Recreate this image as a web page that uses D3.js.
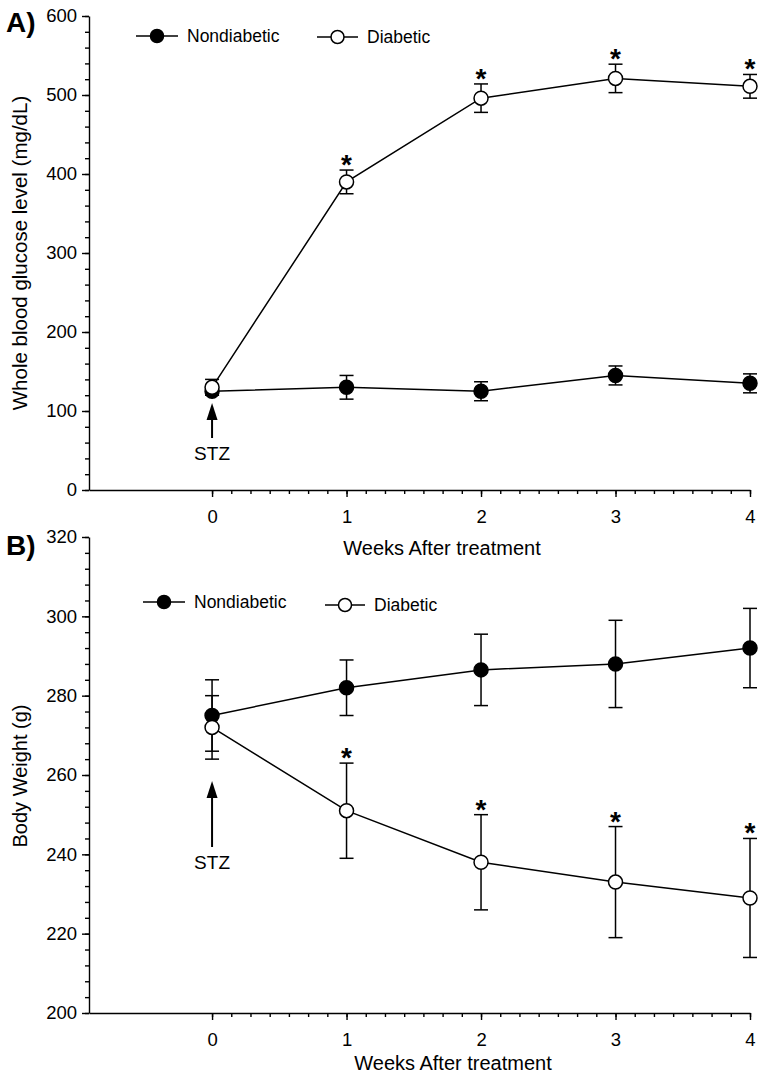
<!DOCTYPE html>
<html>
<head>
<meta charset="utf-8">
<script src="https://cdn.jsdelivr.net/npm/d3@7"></script>
<style>
  html, body { margin: 0; padding: 0; background: #fff; }
  svg { display: block; font-family: Arial, "Liberation Sans", sans-serif; }
</style>
</head>
<body>
<svg id="chart" width="768" height="1076"></svg>
<script>
// ---------- data ----------
const weeks = [0, 1, 2, 3, 4];
const weekTicks = [0, 1, 2, 3, 4];

const glucoseNondiabetic = [125, 130, 125, 145, 135];
const glucoseNondiabeticErr = [5, 15, 12, 12, 12];
const glucoseDiabetic = [130, 390, 496, 521, 511];
const glucoseDiabeticErr = [10, 15, 18, 18, 15];
const glucoseStars = [false, true, true, true, true];
const glucoseTicks = [0, 100, 200, 300, 400, 500, 600];

const weightNondiabetic = [275, 282, 286.5, 288, 292];
const weightNondiabeticErr = [9, 7, 9, 11, 10];
const weightDiabetic = [272, 251, 238, 233, 229];
const weightDiabeticErr = [8, 12, 12, 14, 15];
const weightStars = [false, true, true, true, true];
const weightTicks = [200, 220, 240, 260, 280, 300, 320];

const seriesNames = ["Nondiabetic", "Diabetic"];

// ---------- drawing ----------
const svg = d3.select("#chart");
const xDomain = [-0.915, 4];
const xRange = [89, 750];
const FONT = "Arial, 'Liberation Sans', sans-serif";

function drawPanel(opts) {
  const g = svg.append("g");
  const x = d3.scaleLinear().domain(xDomain).range(xRange);
  const y = d3.scaleLinear().domain(opts.yDomain).range(opts.yRange);
  const yBase = opts.yRange[0];

  // y axis minor
  g.append("g")
    .attr("transform", `translate(${xRange[0]},0)`)
    .call(d3.axisLeft(y).tickValues(d3.range(opts.yDomain[0], opts.yDomain[1] + 0.001, opts.minorY)).tickSize(4).tickFormat(""))
    .call(s => s.select(".domain").remove());
  // y axis major
  g.append("g")
    .attr("transform", `translate(${xRange[0]},0)`)
    .call(d3.axisLeft(y).tickValues(opts.yTicks).tickSize(7).tickSizeOuter(0).tickPadding(5))
    .call(s => s.selectAll("text").attr("font-size", 18.5).attr("fill", "#000").attr("font-family", FONT));

  // x axis minor (days)
  g.append("g")
    .attr("transform", `translate(0,${yBase})`)
    .call(d3.axisBottom(x).tickValues(d3.range(0, 28.001, 1).map(d => d / 7)).tickSize(4).tickFormat(""))
    .call(s => s.select(".domain").remove());
  // x axis major
  g.append("g")
    .attr("transform", `translate(0,${yBase})`)
    .call(d3.axisBottom(x).tickValues(weekTicks).tickSize(7).tickSizeOuter(0).tickPadding(13).tickFormat(d3.format("d")))
    .call(s => s.selectAll("text").attr("font-size", 18.5).attr("fill", "#000").attr("font-family", FONT));

  g.selectAll(".domain, .tick line").attr("stroke", "#000").attr("stroke-width", 1.4);

  // axis titles
  g.append("text")
    .attr("x", opts.xTitleX).attr("y", opts.xTitleY)
    .attr("text-anchor", "middle").attr("font-size", 20).text("Weeks After treatment");
  g.append("text")
    .attr("transform", `translate(${27},${opts.yTitleY}) rotate(-90)`)
    .attr("text-anchor", "middle").attr("font-size", opts.yTitleSize).text(opts.yTitle);

  // panel label
  g.append("text")
    .attr("x", 6).attr("y", opts.panelLabelY)
    .attr("font-size", 28).attr("font-weight", "bold").text(opts.panelLabel);

  // STZ arrow
  const ax = x(0);
  g.append("line").attr("x1", ax).attr("x2", ax).attr("y1", opts.arrow[1]).attr("y2", opts.arrow[0] + 10)
    .attr("stroke", "#000").attr("stroke-width", 2);
  g.append("path")
    .attr("d", `M${ax},${opts.arrow[0]} L${ax - 5.5},${opts.arrow[0] + 17} L${ax + 5.5},${opts.arrow[0] + 17} Z`)
    .attr("fill", "#000");
  g.append("text").attr("x", ax).attr("y", opts.arrow[1] + 22)
    .attr("text-anchor", "middle").attr("font-size", 19).text("STZ");

  const line = d3.line().x((d, i) => x(weeks[i])).y(d => y(d));

  const series = [
    { vals: opts.nd, err: opts.ndErr, fill: "#000" },
    { vals: opts.d, err: opts.dErr, fill: "#fff" }
  ];

  // error bars
  series.forEach(s => {
    const eg = g.append("g");
    weeks.forEach((w, i) => {
      const cx = x(w), top = y(s.vals[i] + s.err[i]), bot = y(s.vals[i] - s.err[i]);
      eg.append("line").attr("x1", cx).attr("x2", cx).attr("y1", top).attr("y2", bot).attr("stroke", "#000").attr("stroke-width", 1.5);
      [top, bot].forEach(yy => eg.append("line").attr("x1", cx - 7).attr("x2", cx + 7).attr("y1", yy).attr("y2", yy).attr("stroke", "#000").attr("stroke-width", 1.5));
    });
  });
  // lines
  series.forEach(s => {
    g.append("path").datum(s.vals).attr("d", line).attr("fill", "none").attr("stroke", "#000").attr("stroke-width", 1.5);
  });
  // markers
  series.forEach(s => {
    g.selectAll(null).data(s.vals).enter().append("circle")
      .attr("cx", (d, i) => x(weeks[i])).attr("cy", d => y(d)).attr("r", 7)
      .attr("fill", s.fill).attr("stroke", "#000").attr("stroke-width", 1.5);
  });
  // stars
  const starIdx = weeks.map((w, i) => i).filter(i => opts.stars[i]);
  g.selectAll(null).data(starIdx).enter().append("text")
    .attr("x", i => x(weeks[i]))
    .attr("y", i => y(opts.d[i] + opts.dErr[i]) + 4)
    .attr("text-anchor", "middle").attr("font-size", 28).attr("font-weight", "bold").text("*");

  // legend
  opts.legend.forEach((L, i) => {
    const lg = g.append("g");
    lg.append("line").attr("x1", L.x0).attr("x2", L.x1).attr("y1", L.y).attr("y2", L.y).attr("stroke", "#000").attr("stroke-width", 1.5);
    lg.append("circle").attr("cx", (L.x0 + L.x1) / 2).attr("cy", L.y).attr("r", 6.5)
      .attr("fill", series[i].fill).attr("stroke", "#000").attr("stroke-width", 1.5);
    lg.append("text").attr("x", L.x1 + 9).attr("y", L.y + 6).attr("font-size", 17.5).text(seriesNames[i]);
  });
}

drawPanel({
  yDomain: [0, 600], yRange: [490, 16], yTicks: glucoseTicks, minorY: 20,
  nd: glucoseNondiabetic, ndErr: glucoseNondiabeticErr,
  d: glucoseDiabetic, dErr: glucoseDiabeticErr, stars: glucoseStars,
  xTitleX: 442, xTitleY: 555, yTitleY: 253, yTitleSize: 20.5,
  yTitle: "Whole blood glucose level (mg/dL)",
  panelLabel: "A)", panelLabelY: 32,
  arrow: [403, 438],
  legend: [{ x0: 136, x1: 178, y: 36 }, { x0: 317, x1: 358, y: 37 }]
});

drawPanel({
  yDomain: [200, 320], yRange: [1013, 537], yTicks: weightTicks, minorY: 4,
  nd: weightNondiabetic, ndErr: weightNondiabeticErr,
  d: weightDiabetic, dErr: weightDiabeticErr, stars: weightStars,
  xTitleX: 453, xTitleY: 1070, yTitleY: 776, yTitleSize: 20,
  yTitle: "Body Weight (g)",
  panelLabel: "B)", panelLabelY: 555,
  arrow: [781, 847],
  legend: [{ x0: 143, x1: 185, y: 602 }, { x0: 325, x1: 365, y: 605 }]
});
</script>
</body>
</html>
